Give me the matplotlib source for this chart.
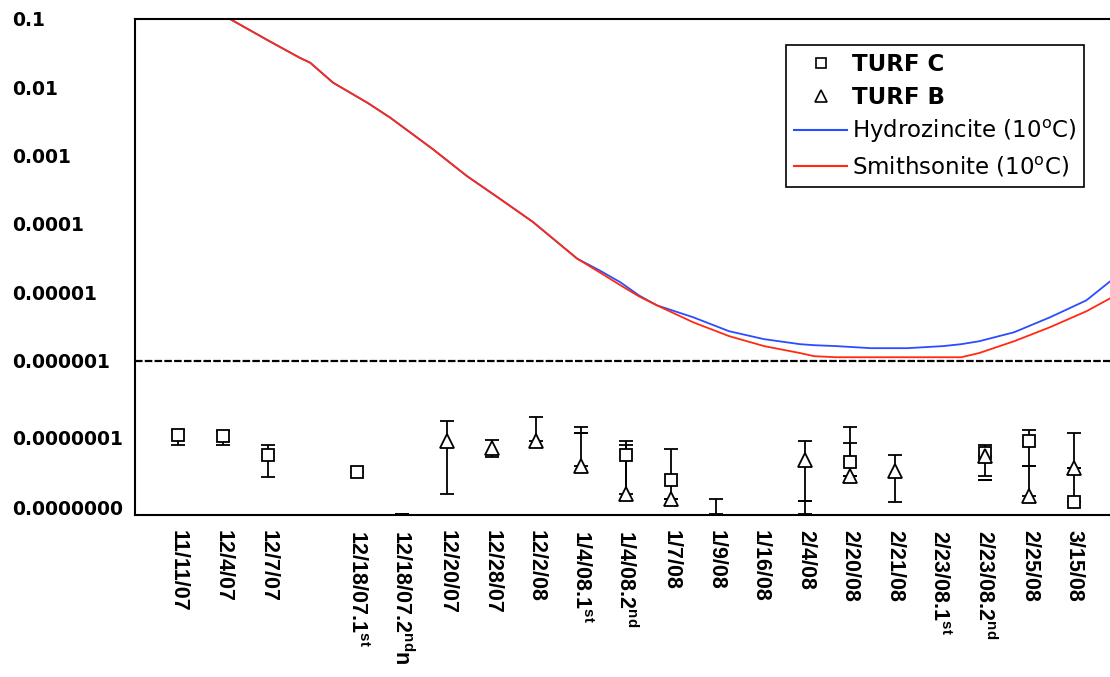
import numpy as np
import matplotlib
matplotlib.use("Agg")
import matplotlib.pyplot as plt
from matplotlib.lines import Line2D

plt.rcParams['mathtext.fontset'] = 'custom'
plt.rcParams['mathtext.rm'] = 'Liberation Sans'
plt.rcParams['mathtext.default'] = 'regular'

# ---------------- data ----------------
categories = ["11/11/07", "12/4/07", "12/7/07", "", "12/18/07.1$^{st}$",
              "12/18/07.2$^{nd}$n", "12/20/07", "12/28/07", "12/2/08",
              "1/4/08.1$^{st}$", "1/4/08.2$^{nd}$", "1/7/08", "1/9/08",
              "1/16/08", "2/4/08", "2/20/08", "2/21/08", "2/23/08.1$^{st}$",
              "2/23/08.2$^{nd}$", "2/25/08", "3/15/08"]

nan = np.nan
# TURF C (squares): value, lower end, upper end of error bar
turf_c = [8.24e-8, 7.96e-8, 4.21e-8, nan, 2.38e-8, nan, nan, nan, nan, nan,
          4.21e-8, 1.76e-8, nan, nan, nan, 3.33e-8, nan, nan, 4.50e-8, 6.73e-8, 8.43e-9]
turf_c_lo = [5.89e-8, 5.89e-8, 2.01e-8, nan, 2.38e-8, nan, nan, nan, nan, nan,
             1.10e-8, 9.31e-9, nan, nan, nan, 2.08e-8, nan, nan, 4.07e-8, 2.82e-8, 8.43e-9]
turf_c_hi = [9.73e-8, 9.42e-8, 5.89e-8, nan, 2.38e-8, nan, nan, nan, nan, nan,
             6.73e-8, 5.15e-8, nan, nan, nan, 1.08e-7, nan, nan, 5.89e-8, 9.73e-8, 2.72e-8]

# TURF B (triangles)
turf_b = [nan, nan, nan, nan, nan, nan, 6.73e-8, 5.32e-8, 6.73e-8, 2.91e-8,
          1.10e-8, 9.31e-9, nan, nan, 3.56e-8, 2.08e-8, 2.46e-8, nan, 4.07e-8, 1.03e-8, 2.72e-8]
turf_b_lo = [nan, nan, nan, nan, nan, nan, 1.10e-8, 3.94e-8, 6.73e-8, 2.91e-8,
             9.01e-9, 9.31e-9, nan, nan, 8.71e-9, 2.08e-8, 8.43e-9, nan, 2.08e-8, 1.03e-8, 2.72e-8]
turf_b_hi = [nan, nan, nan, nan, nan, nan, 1.32e-7, 6.97e-8, 1.51e-7, 1.08e-7,
             5.89e-8, 9.31e-9, nan, nan, 6.73e-8, 6.30e-8, 4.21e-8, nan, 4.07e-8, 2.82e-8, 8.81e-8]

# error bars without a visible marker (category index, centre, lower end, upper end)
extra_idx = [5, 9, 12, 14, 18]
extra_val = [5.64e-9, 8.81e-8, 5.64e-9, 5.64e-9, 1.76e-8]
extra_lo = [5.64e-9, 8.81e-8, 5.64e-9, 5.64e-9, 1.76e-8]
extra_hi = [5.64e-9, 8.81e-8, 9.31e-9, 8.71e-9, 1.76e-8]

# Saturation curves (x in category units)
curve_x = [1.16, 1.99, 2.72, 2.95, 3.46, 4.22, 4.73, 5.69, 6.45, 7.19, 7.92, 8.91,
           9.42, 9.88, 10.29, 10.69, 11.50, 12.30, 13.08, 13.88, 14.20, 14.69, 15.47,
           16.27, 17.08, 17.48, 17.88, 18.66, 19.46, 20.27, 20.80]
hydrozincite = [1.0e-1, 4.94e-2, 2.70e-2, 2.29e-2, 1.17e-2, 5.98e-3, 3.62e-3, 1.24e-3,
                5.01e-4, 2.32e-4, 1.07e-4, 3.10e-5, 2.07e-5, 1.39e-5, 8.97e-6, 6.43e-6,
                4.30e-6, 2.69e-6, 2.06e-6, 1.74e-6, 1.68e-6, 1.63e-6, 1.52e-6, 1.52e-6,
                1.63e-6, 1.74e-6, 1.92e-6, 2.60e-6, 4.30e-6, 7.60e-6, 1.44e-5]
smithsonite = [1.0e-1, 4.94e-2, 2.70e-2, 2.29e-2, 1.17e-2, 5.98e-3, 3.62e-3, 1.24e-3,
               5.01e-4, 2.32e-4, 1.07e-4, 3.10e-5, 1.94e-5, 1.26e-5, 8.69e-6, 6.43e-6,
               3.63e-6, 2.28e-6, 1.63e-6, 1.29e-6, 1.16e-6, 1.12e-6, 1.12e-6, 1.12e-6,
               1.12e-6, 1.12e-6, 1.29e-6, 1.92e-6, 3.08e-6, 5.26e-6, 8.13e-6]

ytick_vals = [1e-1, 1e-2, 1e-3, 1e-4, 1e-5, 1e-6, 7.45e-8, 7.13e-9]
ytick_labels = ["0.1", "0.01", "0.001", "0.0001", "0.00001", "0.000001",
                "0.0000001", "0.0000000"]
threshold = 1e-6

# ---------------- plot ----------------
fig = plt.figure(figsize=(11.1, 6.77), dpi=100)
ax = fig.add_axes([135/1110, 1-515/677, 1-135/1110, (515-19)/677])
ax.set_yscale('log')
ax.set_ylim(10**-8.26, 1e-1)
ax.set_xlim(-0.96, 20.80)

x = np.arange(len(categories))

ax.plot(curve_x, hydrozincite, color='#2b4cff', lw=1.3, zorder=2)
ax.plot(curve_x, smithsonite, color='#ff2a10', lw=1.3, zorder=2)
ax.axhline(threshold, color='black', lw=1.6, linestyle=(0, (3.4, 1.0)), zorder=3)

def draw_err(vals, lo, hi, marker, ms):
    v = np.array(vals, float)
    l = np.array(lo, float)
    h = np.array(hi, float)
    ax.errorbar(x, v, yerr=[v - l, h - v], fmt='none', ecolor='black',
                elinewidth=1.3, capsize=4.7, capthick=1.3, clip_on=False, zorder=4)
    ax.plot(x, v, ls='none', marker=marker, ms=ms, mfc='white', mec='black',
            mew=1.3, zorder=5, clip_on=False)

draw_err(turf_c, turf_c_lo, turf_c_hi, 's', 8)
draw_err(turf_b, turf_b_lo, turf_b_hi, '^', 10)

ev = np.array(extra_val)
ax.errorbar(extra_idx, ev, yerr=[ev - np.array(extra_lo), np.array(extra_hi) - ev],
            fmt='none', ecolor='black', elinewidth=1.3, capsize=4.7, capthick=1.3,
            clip_on=False, zorder=4)

ax.set_xticks(x)
ax.set_xticklabels(categories, rotation=-90, fontsize=15.5, fontweight='bold',
                   family='Liberation Sans', va='top', ha='center')
ax.tick_params(axis='x', length=0, pad=11)

ax.set_yticks(ytick_vals)
ax.set_yticklabels(ytick_labels, fontsize=13.5, fontweight='bold', family='DejaVu Sans')
ax.yaxis.set_minor_locator(matplotlib.ticker.NullLocator())
ax.tick_params(axis='y', length=0, pad=(135-12)*72/100)
for lab in ax.get_yticklabels():
    lab.set_horizontalalignment('left')

for s in ['left', 'top', 'bottom']:
    ax.spines[s].set_linewidth(1.5)
    ax.spines[s].set_color('black')
ax.spines['right'].set_visible(False)

handles = [Line2D([], [], ls='none', marker='s', ms=7, mfc='white', mec='black', mew=1.2),
           Line2D([], [], ls='none', marker='^', ms=9, mfc='white', mec='black', mew=1.2),
           Line2D([], [], color='#2b4cff', lw=1.5),
           Line2D([], [], color='#ff2a10', lw=1.5)]
labels = ["TURF C", "TURF B", "Hydrozincite (10$^{o}$C)", "Smithsonite (10$^{o}$C)"]
leg = ax.legend(handles, labels, loc='upper right', bbox_to_anchor=(1084/1110, 1-45/677),
                bbox_transform=fig.transFigure, borderaxespad=0, fancybox=False,
                framealpha=1, edgecolor='black', prop={'family': 'DejaVu Sans', 'size': 16.5},
                handlelength=2.3, handletextpad=0.2, labelspacing=0.42, borderpad=0.35)
leg.get_frame().set_linewidth(1.2)
for t in leg.get_texts()[:2]:
    t.set_fontweight('bold')

fig.savefig('out.png', dpi=100)
